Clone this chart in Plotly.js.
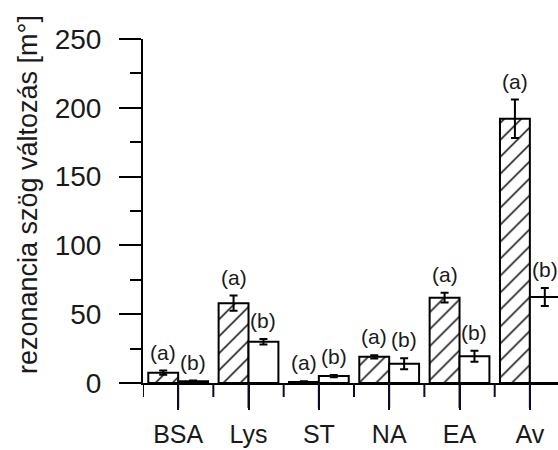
<!DOCTYPE html>
<html>
<head>
<meta charset="utf-8">
<script src="https://cdn.plot.ly/plotly-3.0.1.min.js"></script>
<style>html,body{margin:0;padding:0;background:#fff;}#chart{width:558px;height:450px;}</style>
</head>
<body>
<div id="chart"></div>
<script>
const categories = ['BSA', 'Lys', 'ST', 'NA', 'EA', 'Av'];
const valuesA = [7.5, 58, 0.8, 19, 62, 192];
const errorsA = [1.5, 5.5, 0.4, 1.2, 3.5, 14];
const labelsA = ['(a)', '(a)', '(a)', '(a)', '(a)', '(a)'];
const valuesB = [1.2, 30, 5, 14, 19.5, 62.5];
const errorsB = [0.6, 2, 0.8, 4, 4, 6.5];
const labelsB = ['(b)', '(b)', '(b)', '(b)', '(b)', '(b)'];
const yTitle = 'rezonancia szög változás [m°]';

const xIdx = categories.map((c, i) => i);
const alias = {};
xIdx.forEach((x, i) => { alias[x] = categories[i]; });
const FONT = 'Arial, "Liberation Sans", sans-serif';
const TXT = '#1a1a1a';
const TICK = '#0c0c28';
const bargap = 0.15;
const half = (1 - bargap) / 4;
const plotH = 450 - 39 - 67;

const traceA = {
  type: 'bar', x: xIdx, y: valuesA,
  error_y: {type: 'data', array: errorsA, visible: true, color: '#000', thickness: 2, width: 4},
  marker: {color: '#fff', line: {color: '#000', width: 2},
           pattern: {shape: '/', fgcolor: '#000', bgcolor: '#fff', size: 12, solidity: 0.12}},
  showlegend: false, hoverinfo: 'skip'
};
const traceB = {
  type: 'bar', x: xIdx, y: valuesB,
  error_y: {type: 'data', array: errorsB, visible: true, color: '#000', thickness: 2, width: 4},
  marker: {color: '#fff', line: {color: '#000', width: 2}},
  showlegend: false, hoverinfo: 'skip'
};

const annotations = [];
xIdx.forEach((x, i) => {
  annotations.push({x: x - half, y: valuesA[i] + errorsA[i], text: labelsA[i], showarrow: false,
    yanchor: 'bottom', yshift: 5, font: {family: FONT, size: 21, color: TXT}, xref: 'x', yref: 'y'});
  annotations.push({x: x + half, y: valuesB[i] + errorsB[i], text: labelsB[i], showarrow: false,
    yanchor: 'bottom', yshift: 5, font: {family: FONT, size: 21, color: TXT}, xref: 'x', yref: 'y'});
});
annotations.push({xref: 'paper', yref: 'paper', x: -0.277, y: 0.5465, text: yTitle, textangle: -90,
  showarrow: false, xanchor: 'center', yanchor: 'middle', font: {family: FONT, size: 27, color: TXT}});

// x-axis tick marks: major at category centres, minor at category boundaries
const shapes = [];
xIdx.forEach((x) => {
  shapes.push({type: 'line', xref: 'x', yref: 'paper', x0: x, x1: x, y0: 0, y1: -25 / plotH,
    line: {color: TICK, width: 2}});
  shapes.push({type: 'line', xref: 'x', yref: 'paper', x0: x - 0.5, x1: x - 0.5, y0: 0, y1: -14 / plotH,
    line: {color: TICK, width: 2}});
});

const layout = {
  width: 558, height: 450,
  margin: {l: 143, r: 0, t: 39, b: 67, pad: 0},
  paper_bgcolor: '#fff', plot_bgcolor: '#fff',
  barmode: 'group', bargap: bargap, bargroupgap: 0,
  font: {family: FONT, size: 24, color: TXT},
  xaxis: {
    type: 'linear', range: [-0.5, 5.4], showgrid: false, zeroline: false,
    showline: true, linecolor: '#000', linewidth: 2,
    tickmode: 'linear', tick0: 0, dtick: 1, labelalias: alias,
    ticks: 'outside', ticklen: 25, tickwidth: 2, tickcolor: TICK,
    ticklabelstandoff: 3,
    tickfont: {family: FONT, size: 25, color: TXT},
    fixedrange: true
  },
  yaxis: {
    range: [0, 250], showgrid: false, zeroline: false,
    showline: true, linecolor: '#000', linewidth: 2,
    tickmode: 'linear', tick0: 0, dtick: 50,
    ticks: 'outside', ticklen: 22, tickwidth: 2, tickcolor: '#000',
    ticklabelstandoff: 12,
    minor: {tickmode: 'linear', tick0: 0, dtick: 25, ticks: 'outside', ticklen: 11, tickwidth: 2, tickcolor: '#000', showgrid: false},
    tickfont: {family: FONT, size: 28, color: TXT},
    fixedrange: true
  },
  annotations: annotations,
  shapes: shapes
};

Plotly.newPlot('chart', [traceA, traceB], layout, {displayModeBar: false, staticPlot: true});
</script>
</body>
</html>
